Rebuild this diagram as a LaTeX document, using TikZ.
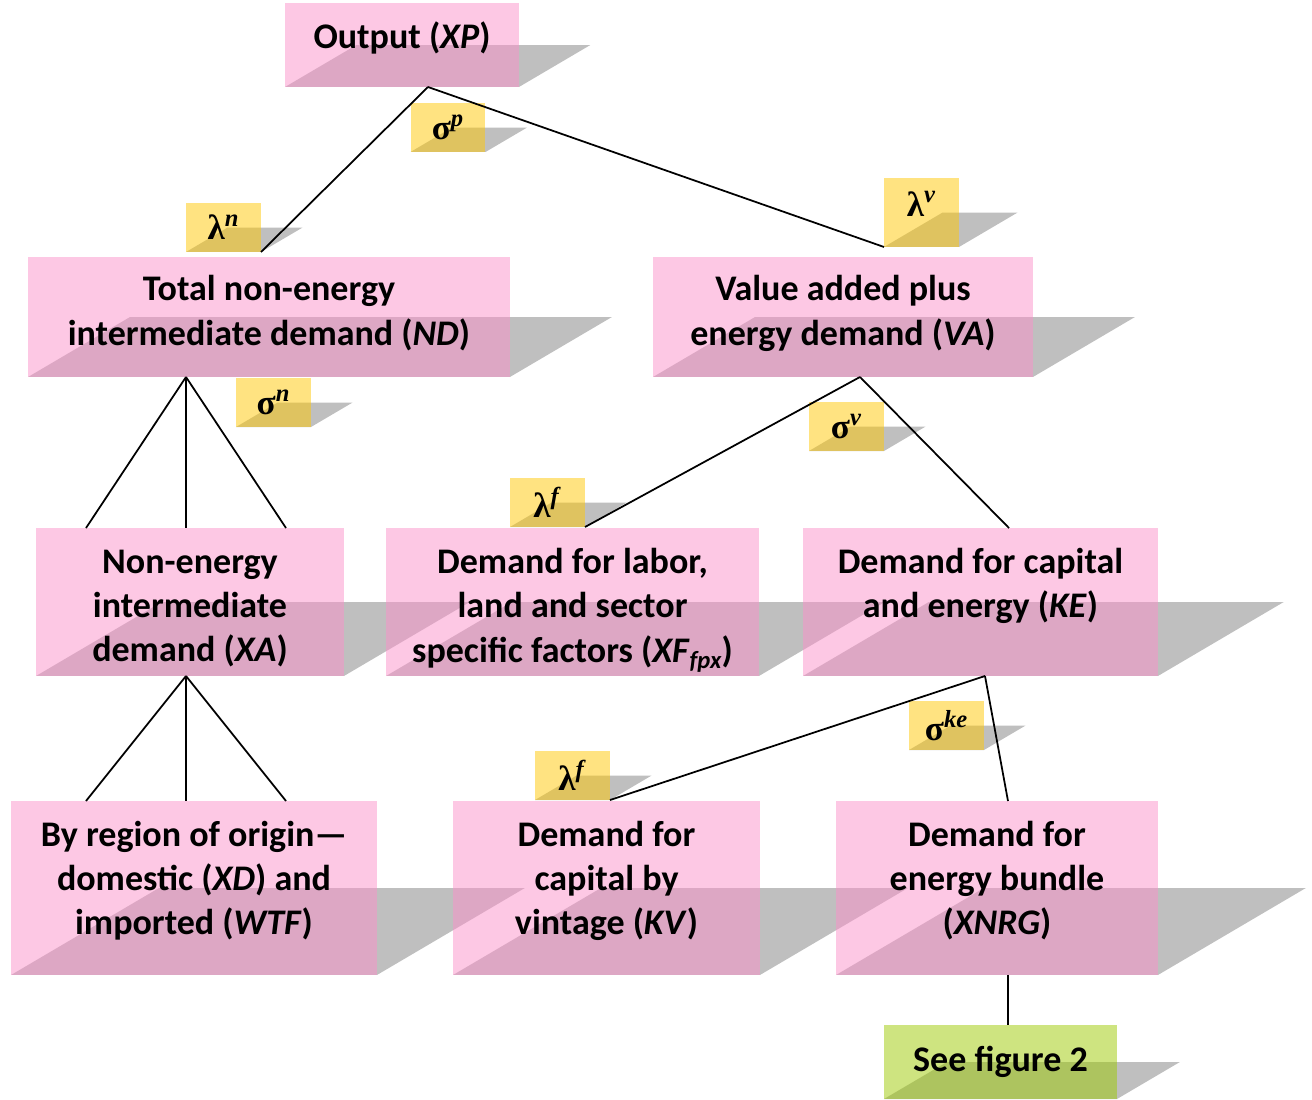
\documentclass[tikz,border=0pt]{standalone}
\usepackage{fontspec}
\setmainfont{Carlito}
\newfontfamily\greekfont{Liberation Serif}
\usetikzlibrary{calc,backgrounds}
\definecolor{boxpink}{RGB}{251,145,201}
\definecolor{labelgold}{RGB}{255,199,3}
\definecolor{seegreen}{RGB}{157,201,1}
\definecolor{shadegray}{RGB}{191,191,191}
\tikzstyle{block} = [rectangle, inner sep=0pt, outer sep=0pt, align=center, font=\fontsize{20.5}{25.2}\selectfont\bfseries]
\tikzstyle{param} = [rectangle, inner sep=0pt, outer sep=0pt, minimum width=1.5cm, minimum height=0.98cm, font=\greekfont\fontsize{20}{20}\selectfont\bfseries]
\tikzstyle{line} = [draw, line width=1pt]
\newcommand{\elas}[2]{#1\textsuperscript{\textit{#2}}}

\begin{document}
\begin{tikzpicture}[x=0.02cm, y=-0.02cm]
	\useasboundingbox (0,0) rectangle (1312,1099);
	\node [block, minimum width=4.68cm, minimum height=1.68cm, text height=0.56cm, text depth=0.43cm] (xp) at (402,45) {Output (\textit{XP})};
	\node [param] (sigp) at (448,127.5) {\elas{σ}{p}};
	\node [param] (lamn) at (223.5,227.5) {\elas{λ}{n}};
	\node [param, minimum height=1.38cm, text depth=0.35cm] (lamv) at (921.5,212.5) {\elas{λ}{v}};
	\node [block, minimum width=9.64cm, minimum height=2.4cm, text depth=0.27cm] (nd) at (269,317) {Total non-energy\\intermediate demand (\textit{ND})};
	\node [block, minimum width=7.6cm, minimum height=2.4cm, text depth=0.27cm] (va) at (843,317) {Value added plus\\energy demand (\textit{VA})};
	\node [param] (sign) at (273.5,402.5) {\elas{σ}{n}};
	\node [param] (sigv) at (846.5,426.5) {\elas{σ}{v}};
	\node [param] (lamf) at (547.5,502.5) {\elas{λ}{f}};
	\node [block, minimum width=6.16cm, minimum height=2.96cm, text height=2.5cm] (xa) at (190,602) {Non-energy\\intermediate\\demand (\textit{XA})};
	\node [block, minimum width=7.46cm, minimum height=2.96cm, text height=2.6cm] (xf) at (572.5,602) {Demand for labor,\\land and sector\\specific factors (\textit{XF}\raisebox{-0.35ex}{\fontsize{14}{14}\selectfont\textit{fpx}})};
	\node [block, minimum width=7.1cm, minimum height=2.96cm, text depth=0.78cm] (ke) at (980.5,602) {Demand for capital\\and energy (\textit{KE})};
	\node [param] (sigke) at (946.5,725.5) {\elas{σ}{ke}};
	\node [param] (lamfk) at (572.5,775.5) {\elas{λ}{f}};
	\node [block, minimum width=7.32cm, minimum height=3.48cm, text depth=0.41cm] (br) at (194,888) {By region of origin—\\domestic (\textit{XD}) and\\imported (\textit{WTF})};
	\node [block, minimum width=6.14cm, minimum height=3.48cm, text depth=0.41cm] (kv) at (606.5,888) {Demand for\\capital by\\vintage (\textit{KV})};
	\node [block, minimum width=6.44cm, minimum height=3.48cm, text depth=0.41cm] (xnrg) at (997,888) {Demand for\\energy bundle\\(\textit{XNRG})};
	\node [block, minimum width=4.66cm, minimum height=1.48cm] (see) at (1000.5,1062) {See figure 2};

	\begin{scope}[on background layer]
		\foreach \b in {xp,sigp,lamn,lamv,nd,va,sign,sigv,lamf,xa,xf,ke,sigke,lamfk,br,kv,xnrg,see}
			\fill[shadegray] (\b.south west) -- (\b.south east) -- ($(\b.east)!1.7!90:(\b.south east)$) -- ($(\b.west)!1.7!90:(\b.south west)$) -- cycle;
		\foreach \b in {xp,nd,va,xa,xf,ke,br,kv,xnrg}
			\fill[boxpink, fill opacity=0.5] (\b.south west) rectangle (\b.north east);
		\foreach \b in {sigp,lamn,lamv,sign,sigv,lamf,sigke,lamfk}
			\fill[labelgold, fill opacity=0.5] (\b.south west) rectangle (\b.north east);
		\fill[seegreen, fill opacity=0.5] (see.south west) rectangle (see.north east);
	\end{scope}

	\coordinate (xpfork) at ($(xp.south)+(26,0)$);
	\coordinate (ndfork) at ($(nd.south)+(-83,0)$);
	\coordinate (vafork) at ($(va.south)+(17,0)$);
	\coordinate (xafork) at ($(xa.south)+(-4,0)$);
	\coordinate (kefork) at ($(ke.south)+(4.5,0)$);
	\coordinate (xnrgfork) at ($(xnrg.south)+(11,0)$);

	\path[line] (xpfork) -- (lamn.south east);
	\path[line] (xpfork) -- (lamv.south west);
	\foreach \d in {-100,0,100}
		\path[line] (ndfork) -- ($(ndfork |- xa.north)+(\d,0)$);
	\path[line] (vafork) -- (lamf.south east);
	\path[line] (vafork) -- ($(ke.north)+(28.5,0)$);
	\foreach \d in {-100,0,100}
		\path[line] (xafork) -- ($(xafork |- br.north)+(\d,0)$);
	\path[line] (kefork) -- (lamfk.south east);
	\path[line] (kefork) -- ($(xnrg.north)+(11,0)$);
	\path[line] (xnrgfork) -- (see.north -| xnrgfork);
\end{tikzpicture}
\end{document}
